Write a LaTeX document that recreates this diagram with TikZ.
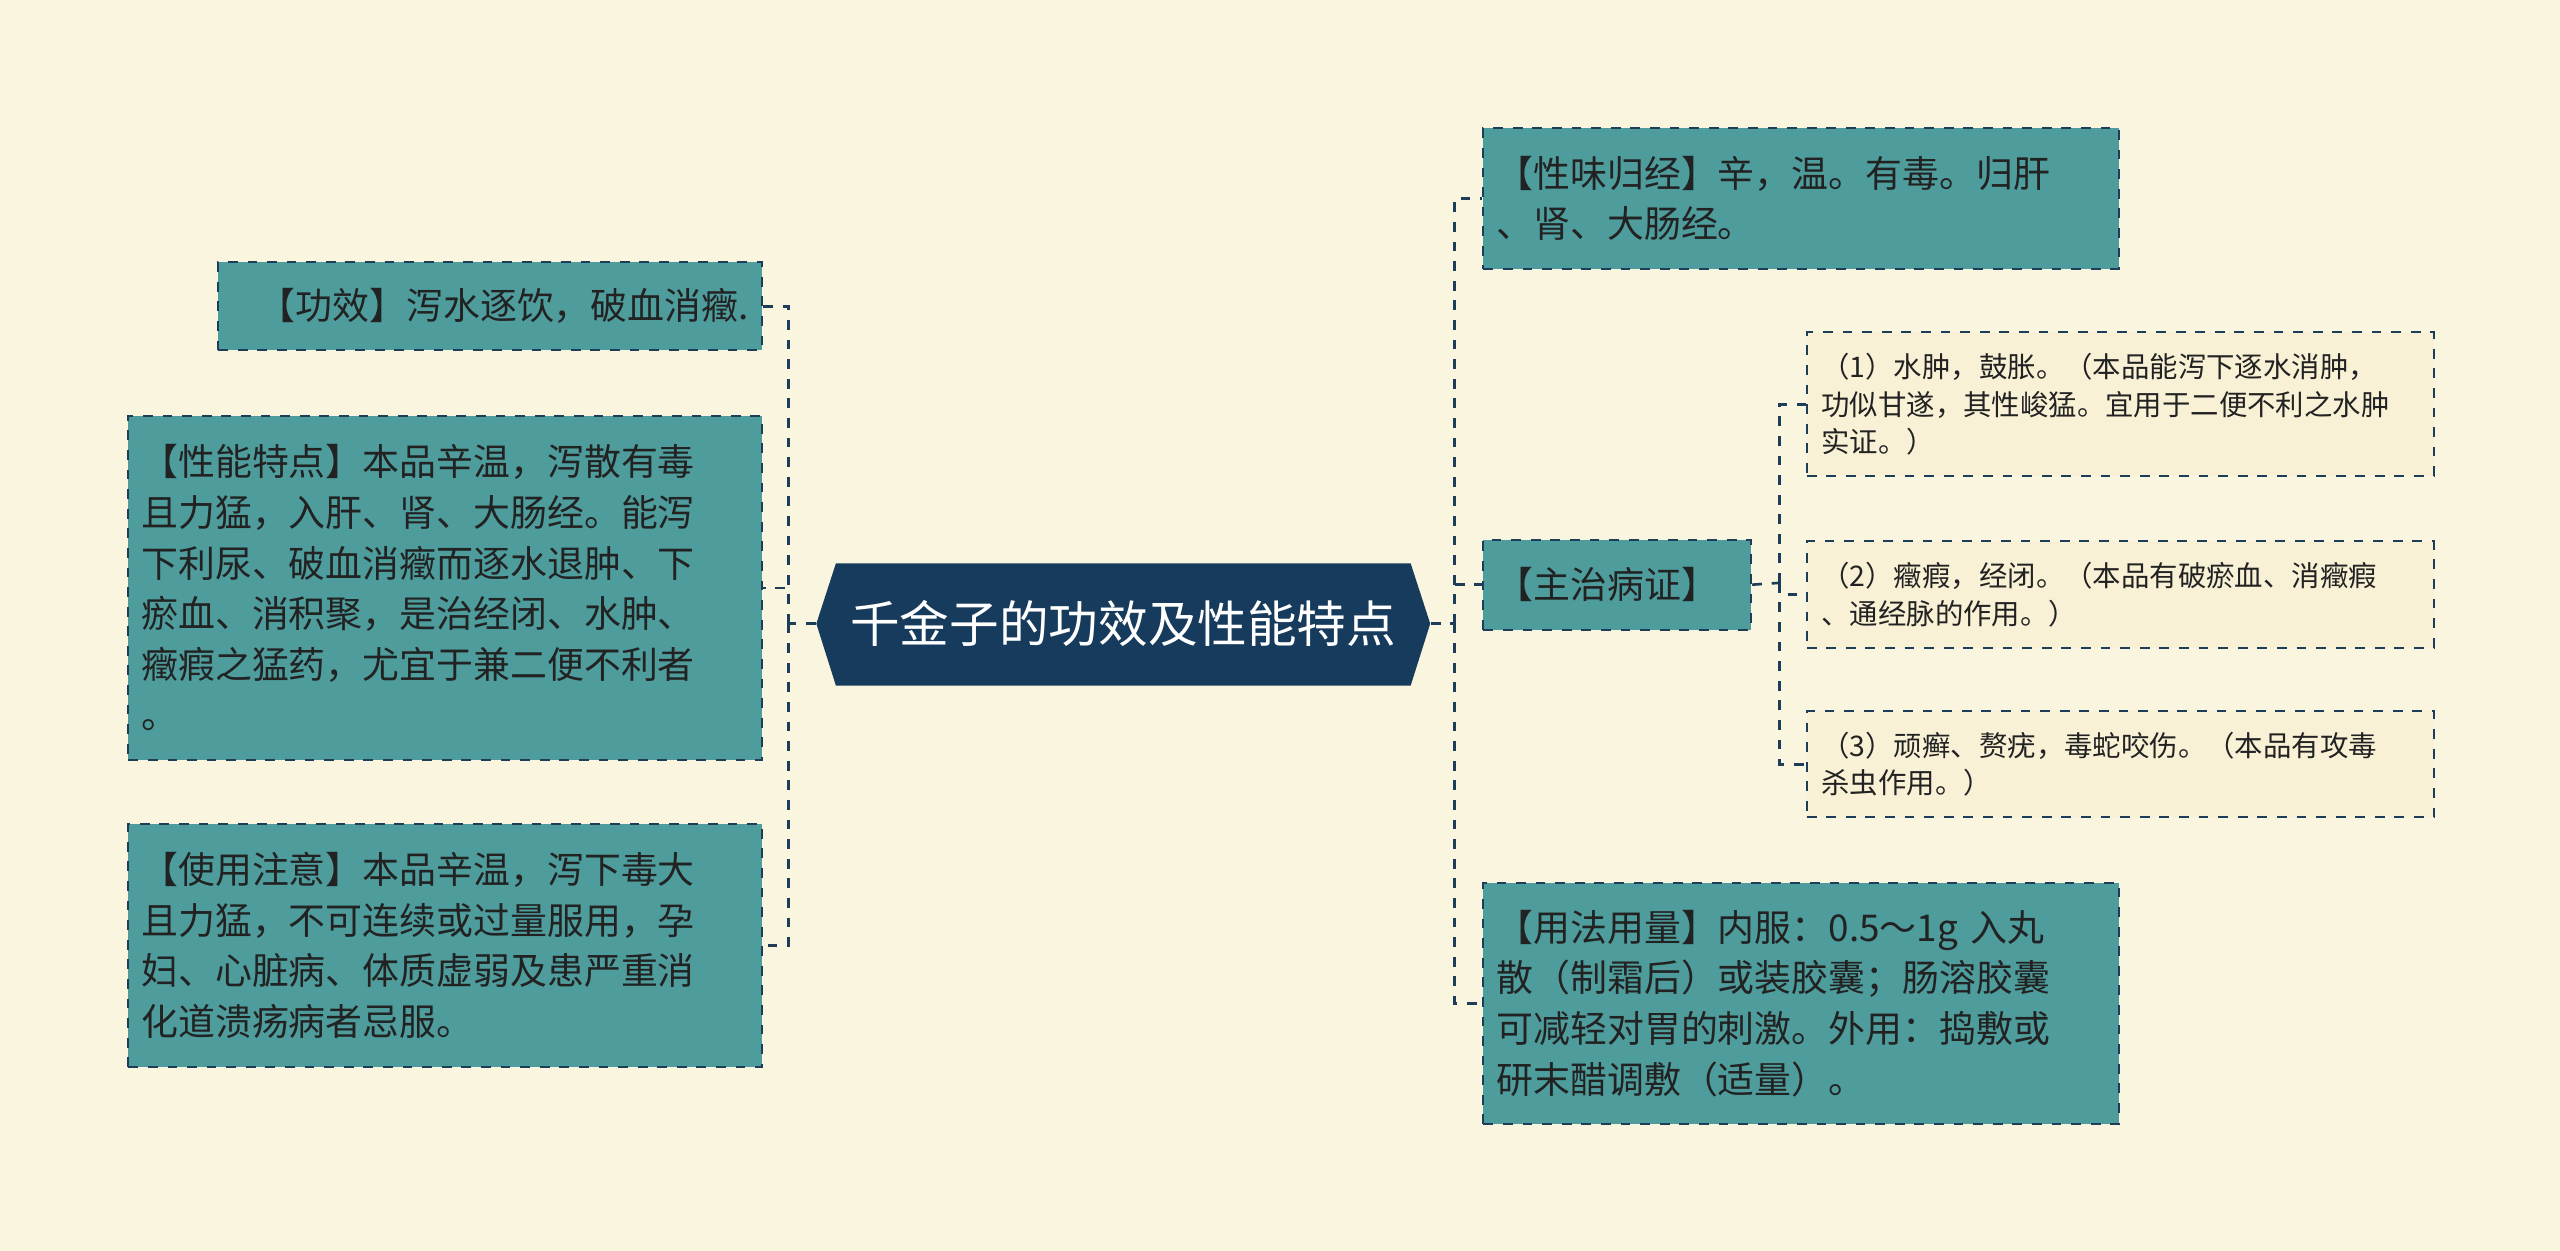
\documentclass[tikz,border=0pt]{standalone}
\usepackage{fontspec}
\setmainfont{Noto Sans CJK SC}
\begin{document}
\begin{tikzpicture}[x=0.5pt,y=-0.5pt,
  box/.style={draw=lineC,fill=tealC,dashed,line width=0.6pt,anchor=north west,inner xsep=4pt,inner ysep=3pt,align=left,font=\fontsize{11.3}{15.5}\selectfont,text=textC},
  sub/.style={draw=lineC,fill=lightC,dashed,line width=0.6pt,anchor=north west,inner xsep=4.5pt,inner ysep=3pt,align=left,font=\fontsize{8.7}{11.6}\selectfont,text=textC},
  link/.style={draw=lineC,dashed,line width=0.8pt}]
\definecolor{bgC}{HTML}{FAF5DE}
\definecolor{tealC}{HTML}{4E9C9C}
\definecolor{lineC}{HTML}{1E3D58}
\definecolor{lightC}{HTML}{F8F1D6}
\definecolor{navyC}{HTML}{173B5C}
\definecolor{textC}{HTML}{222222}
\useasboundingbox (0,0) rectangle (1568,766);
\fill[bgC] (0,0) rectangle (1568,766);
% center
\fill[navyC] (500,382)--(512,345)--(864,345)--(876,382)--(864,420)--(512,420)--cycle;
\node[text=white,font=\fontsize{15.2}{18}\selectfont,minimum width=188pt,minimum height=37pt] (c) at (688,382) {千金子的功效及性能特点};
% left
\node[box,minimum width=166.5pt,minimum height=27pt,text width=158.5pt,align=right] (l1) at (133,160) {【功效】泻水逐饮，破血消癥.};
\node[box,minimum width=194pt,minimum height=105.5pt,text width=186pt] (l2) at (78,254) {【性能特点】本品辛温，泻散有毒\\且力猛，入肝、肾、大肠经。能泻\\下利尿、破血消癥而逐水退肿、下\\瘀血、消积聚，是治经闭、水肿、\\癥瘕之猛药，尤宜于兼二便不利者\\。};
\node[box,minimum width=194pt,minimum height=74.5pt,text width=186pt] (l3) at (78,504) {【使用注意】本品辛温，泻下毒大\\且力猛，不可连续或过量服用，孕\\妇、心脏病、体质虚弱及患严重消\\化道溃疡病者忌服。};
% right
\node[box,minimum width=194.5pt,minimum height=43pt,text width=186.5pt] (r1) at (908,78) {【性味归经】辛，温。有毒。归肝\\、肾、大肠经。};
\node[box,minimum width=82pt,minimum height=27.5pt,text width=74pt] (r2) at (908,330) {【主治病证】};
\node[box,minimum width=194.5pt,minimum height=74pt,text width=186.5pt] (r3) at (908,540) {【用法用量】内服：0.5～1g 入丸\\散（制霜后）或装胶囊；肠溶胶囊\\可减轻对胃的刺激。外用：捣敷或\\研末醋调敷（适量）。};
\node[sub,minimum width=192pt,minimum height=44pt,text width=183pt] (s1) at (1106,203) {（1）水肿，鼓胀。（本品能泻下逐水消肿，\\功似甘遂，其性峻猛。宜用于二便不利之水肿\\实证。）};
\node[sub,minimum width=192pt,minimum height=32.5pt,text width=183pt] (s2) at (1106,331) {（2）癥瘕，经闭。（本品有破瘀血、消癥瘕\\、通经脉的作用。）};
\node[sub,minimum width=192pt,minimum height=32.5pt,text width=183pt] (s3) at (1106,435) {（3）顽癣、赘疣，毒蛇咬伤。（本品有攻毒\\杀虫作用。）};
% links
\coordinate (lj) at (483,382);
\coordinate (rj) at (891,382);
\coordinate (sj) at (1090,357);
\draw[link] (c.west) -- (lj);
\draw[link] (lj) |- (l1.east);
\draw[link] (lj) |- (l2.east);
\draw[link] (lj) |- (l3.east);
\draw[link] (c.east) -- (rj);
\draw[link] (rj) |- (r1.west);
\draw[link] (rj) |- (r2.west);
\draw[link] (rj) |- (r3.west);
\draw[link] (r2.east) -- (sj);
\draw[link] (sj) |- (s1.west);
\draw[link] (sj) |- (s2.west);
\draw[link] (sj) |- (s3.west);
\end{tikzpicture}
\end{document}
